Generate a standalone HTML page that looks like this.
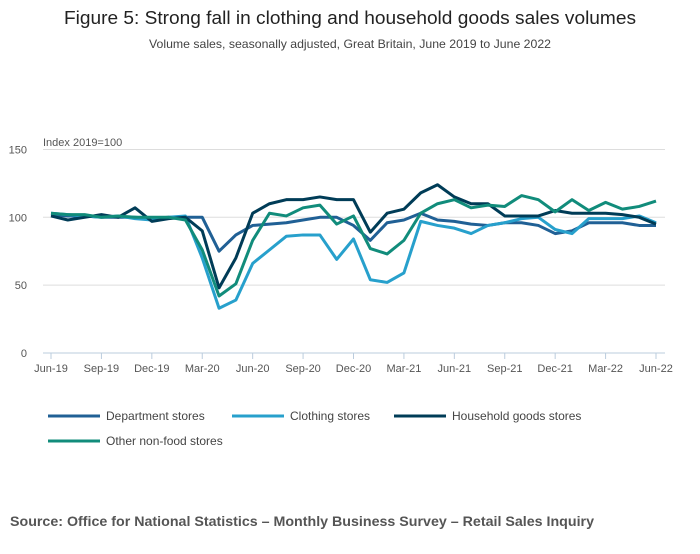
<!DOCTYPE html>
<html><head><meta charset="utf-8"><style>
body{margin:0;background:#fff;font-family:"Liberation Sans",sans-serif;}
svg text{font-family:"Liberation Sans",sans-serif;}
</style></head><body>
<svg width="700" height="549" xmlns="http://www.w3.org/2000/svg">
<text x="350" y="24" text-anchor="middle" font-size="18" textLength="572" lengthAdjust="spacingAndGlyphs" fill="#222">Figure 5: Strong fall in clothing and household goods sales volumes</text>
<text x="350" y="48" text-anchor="middle" font-size="12" textLength="402" lengthAdjust="spacingAndGlyphs" fill="#444">Volume sales, seasonally adjusted, Great Britain, June 2019 to June 2022</text>
<text x="43" y="146" font-size="11" fill="#555">Index 2019=100</text>
<g id="grid"></g><g id="xaxis"></g><g id="lines"></g><g id="legend"></g>
<text x="10" y="526" font-size="14" font-weight="bold" textLength="584" lengthAdjust="spacingAndGlyphs" fill="#555">Source: Office for National Statistics – Monthly Business Survey – Retail Sales Inquiry</text>
</svg>
<script>
const yTicks=[0,50,100,150];
const xLabels=["Jun-19","Sep-19","Dec-19","Mar-20","Jun-20","Sep-20","Dec-20","Mar-21","Jun-21","Sep-21","Dec-21","Mar-22","Jun-22"];
const seriesNames=["Department stores","Clothing stores","Household goods stores","Other non-food stores"];
const department=[102,101,101,100,100,100,99,100,100,100,75,87,94,95,96,98,100,100,94,83,96,98,103,98,97,95,94,96,96,94,88,90,96,96,96,94,94];
const clothing=[103,102,101,100,101,99,98,100,101,70,33,39,66,76,86,87,87,69,84,54,52,59,97,94,92,88,94,96,99,100,91,88,99,99,99,101,96];
const household=[101,98,100,102,100,107,97,99,100,90,48,70,103,110,113,113,115,113,113,89,103,106,118,124,115,110,110,101,101,101,105,103,103,103,102,100,95];
const othernonfood=[103,102,102,100,101,100,100,100,98,76,42,51,83,103,101,107,109,95,101,77,73,83,103,110,113,107,109,108,116,113,104,113,105,111,106,108,112];
const colors=["#206095","#27a0cc","#003c57","#118c7b"];
const NS="http://www.w3.org/2000/svg";
const x=i=>51+i*(605/36), y=v=>353-v*1.357;
function mk(t,a,p){const e=document.createElementNS(NS,t);for(const k in a)e.setAttribute(k,a[k]);p.appendChild(e);return e;}
const grid=document.getElementById('grid');
yTicks.forEach(v=>{
 const l=mk('line',{x1:43,x2:665,y1:y(v),y2:y(v),stroke:v==0?'#bcd':'#ddd','stroke-width':1},grid);
 
 
 const t=mk('text',{x:27,y:y(v)+4,'font-size':11,fill:'#555','text-anchor':'end'},grid);t.textContent=v;
 
 
});
const xa=document.getElementById('xaxis');
xLabels.forEach((s,i)=>{
 const xx=x(i*3);
 const tk=mk('line',{x1:xx,x2:xx,y1:353,y2:359,stroke:'#bcd'},xa);
 
 
 const t=mk('text',{x:xx,y:372,'font-size':11,fill:'#555','text-anchor':'middle'},xa);t.textContent=s;
 
 
});
const lines=document.getElementById('lines');
[department,clothing,household,othernonfood].forEach((d,k)=>{
 const p=mk('polyline',{points:d.map((v,i)=>x(i)+','+y(v)).join(' '),fill:'none',stroke:colors[k],'stroke-width':3,'stroke-linejoin':'round'},lines);
 
 
});
const lg=document.getElementById('legend');
const lpos=[[48,416],[232,416],[394,416],[48,441]];
seriesNames.forEach((n,k)=>{
 const g=mk('g',{},lg);
 
 
 const [lx,ly]=lpos[k];
 mk('line',{x1:lx,x2:lx+52,y1:ly,y2:ly,stroke:colors[k],'stroke-width':3},g);
 const t=mk('text',{x:lx+58,y:ly+4,'font-size':12,fill:'#444'},g);t.textContent=n;
});
</script>
</body></html>
